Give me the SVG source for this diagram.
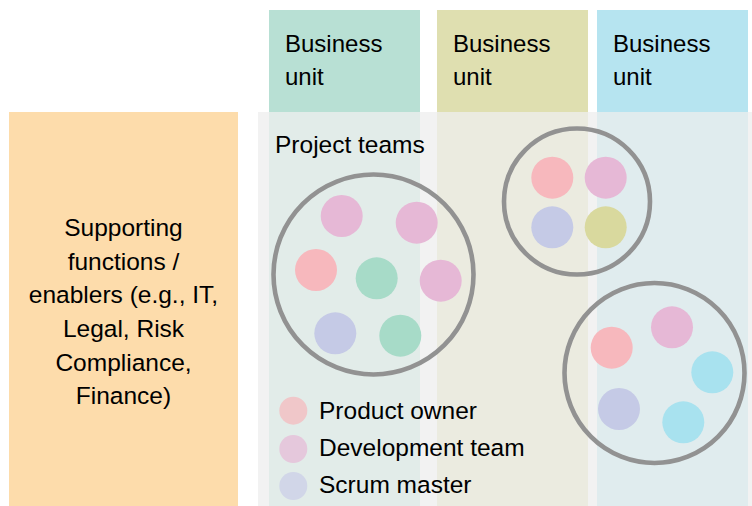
<svg xmlns="http://www.w3.org/2000/svg" width="752" height="506" viewBox="0 0 752 506">
<style>
text{font-family:"Liberation Sans",Arial,sans-serif;fill:#000;}
.hdr{font-size:24px;}
.lbl{font-size:24.5px;}
.team{fill:none;stroke:#929292;stroke-width:4.6;}
.po{fill:#f7b8bd;}
.dev{fill:#e6b8d6;}
.sm{fill:#c5cae6;}
.gr{fill:#a7dbc8;}
.ol{fill:#d9d99e;}
.cy{fill:#a8e2ef;}
</style>
<rect width="752" height="506" fill="#ffffff"/>
<g id="background">
<rect x="258" y="112" width="494" height="394" fill="#f2f2f2"/>
<rect x="269" y="112" width="151" height="394" fill="#e2ece9"/>
<rect x="437" y="112" width="151" height="394" fill="#ebebe0"/>
<rect x="597" y="112" width="151" height="394" fill="#e0ecee"/>
</g>
<g id="bu1">
<rect x="269" y="10" width="151" height="102" fill="#b8e0d4"/>
<text class="hdr" x="285" y="52">Business</text>
<text class="hdr" x="285" y="85">unit</text>
</g>
<g id="bu2">
<rect x="437" y="10" width="151" height="102" fill="#dfdfb0"/>
<text class="hdr" x="453" y="52">Business</text>
<text class="hdr" x="453" y="85">unit</text>
</g>
<g id="bu3">
<rect x="597" y="10" width="151" height="102" fill="#b6e4f0"/>
<text class="hdr" x="613" y="52">Business</text>
<text class="hdr" x="613" y="85">unit</text>
</g>
<g id="support">
<rect x="9" y="112" width="229" height="394" fill="#fddcab"/>
<text class="lbl" text-anchor="middle" x="123.5" y="236">Supporting</text>
<text class="lbl" text-anchor="middle" x="123.5" y="270">functions /</text>
<text class="lbl" text-anchor="middle" x="123.5" y="303">enablers (e.g., IT,</text>
<text class="lbl" text-anchor="middle" x="123.5" y="337">Legal, Risk</text>
<text class="lbl" text-anchor="middle" x="123.5" y="371">Compliance,</text>
<text class="lbl" text-anchor="middle" x="123.5" y="404">Finance)</text>
</g>
<g id="title">
<text class="lbl" x="275" y="153">Project teams</text>
</g>
<g id="team1">
<circle class="team" cx="373.5" cy="274.5" r="100"/>
<circle class="dev" cx="341.7" cy="216" r="21"/>
<circle class="dev" cx="416.7" cy="222.7" r="21"/>
<circle class="po" cx="316" cy="270" r="21"/>
<circle class="gr" cx="376.7" cy="278.3" r="21"/>
<circle class="dev" cx="440.7" cy="280.7" r="21"/>
<circle class="sm" cx="335.3" cy="333.3" r="21"/>
<circle class="gr" cx="400.3" cy="335.7" r="21"/>
</g>
<g id="team2">
<circle class="team" cx="577" cy="201.5" r="73"/>
<circle class="po" cx="552.3" cy="177.7" r="21"/>
<circle class="dev" cx="605.7" cy="177.7" r="21"/>
<circle class="sm" cx="552.3" cy="227.3" r="21"/>
<circle class="ol" cx="605.7" cy="227.3" r="21"/>
</g>
<g id="team3">
<circle class="team" cx="654.5" cy="373" r="90"/>
<circle class="po" cx="611.7" cy="347.7" r="21"/>
<circle class="dev" cx="672" cy="327.3" r="21"/>
<circle class="cy" cx="712.3" cy="372.3" r="21"/>
<circle class="sm" cx="619" cy="409" r="21"/>
<circle class="cy" cx="683.3" cy="422.3" r="21"/>
</g>
<g id="legend">
<circle cx="293.3" cy="410.7" r="14" fill="#f0c7c9"/>
<circle cx="293.3" cy="449" r="14" fill="#e5c8dc"/>
<circle cx="293.3" cy="486" r="14" fill="#d1d6e8"/>
<text class="lbl" x="319" y="419">Product owner</text>
<text class="lbl" x="319" y="456">Development team</text>
<text class="lbl" x="319" y="493">Scrum master</text>
</g>
<g id="connectors"></g>
</svg>
